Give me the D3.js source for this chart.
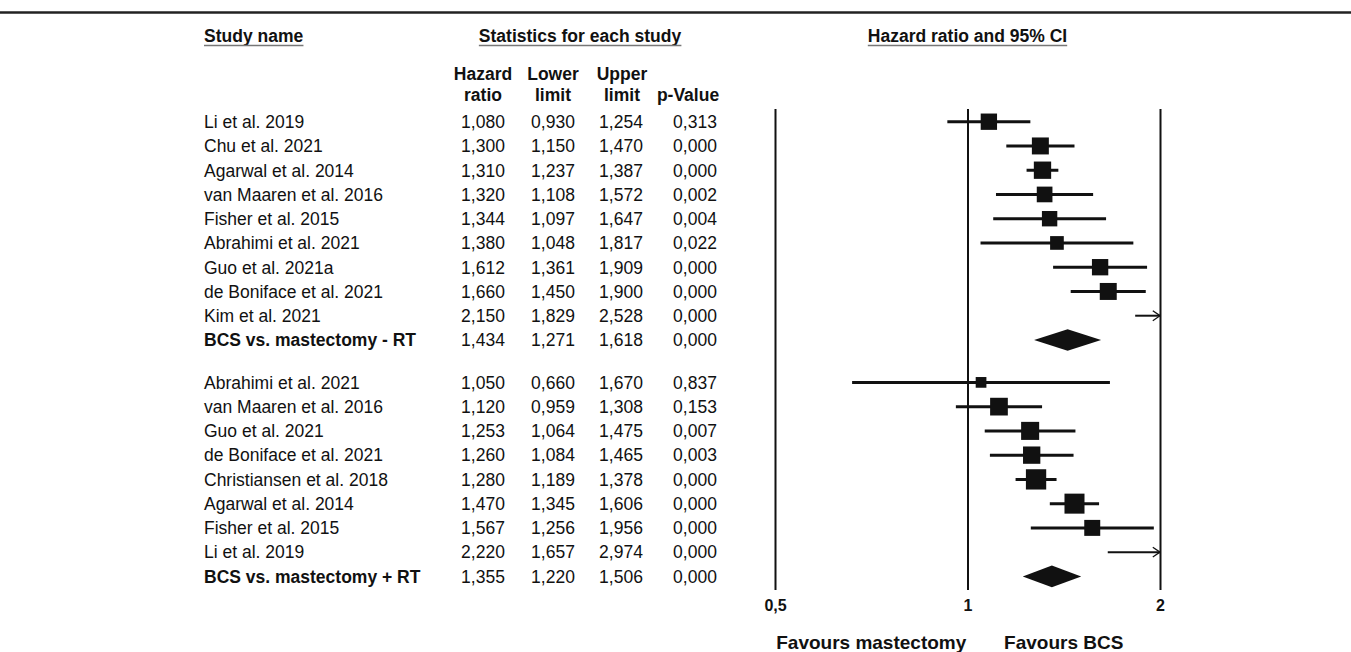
<!DOCTYPE html>
<html>
<head>
<meta charset="utf-8">
<script src="https://cdn.jsdelivr.net/npm/d3@7"></script>
<style>
  body { margin: 0; background: #fff; }
  svg { display: block; font-family: "Liberation Sans", Arial, sans-serif; }
</style>
</head>
<body>
<div id="chart"></div>
<script>
// studies, BCS vs. mastectomy - RT
var names1 = ["Li et al. 2019", "Chu et al. 2021", "Agarwal et al. 2014", "van Maaren et al. 2016",
  "Fisher et al. 2015", "Abrahimi et al. 2021", "Guo et al. 2021a", "de Boniface et al. 2021", "Kim et al. 2021"];
var hr1 = [1.080, 1.300, 1.310, 1.320, 1.344, 1.380, 1.612, 1.660, 2.150];
var lower1 = [0.930, 1.150, 1.237, 1.108, 1.097, 1.048, 1.361, 1.450, 1.829];
var upper1 = [1.254, 1.470, 1.387, 1.572, 1.647, 1.817, 1.909, 1.900, 2.528];
var p1 = [0.313, 0.000, 0.000, 0.002, 0.004, 0.022, 0.000, 0.000, 0.000];
var weight1 = [11.4, 12.3, 12.8, 10.5, 10.1, 8.0, 11.4, 12.3, 11.1];

// studies, BCS vs. mastectomy + RT
var names2 = ["Abrahimi et al. 2021", "van Maaren et al. 2016", "Guo et al. 2021", "de Boniface et al. 2021",
  "Christiansen et al. 2018", "Agarwal et al. 2014", "Fisher et al. 2015", "Li et al. 2019"];
var hr2 = [1.050, 1.120, 1.253, 1.260, 1.280, 1.470, 1.567, 2.220];
var lower2 = [0.660, 0.959, 1.064, 1.084, 1.189, 1.345, 1.256, 1.657];
var upper2 = [1.670, 1.308, 1.475, 1.465, 1.378, 1.606, 1.956, 2.974];
var p2 = [0.837, 0.153, 0.007, 0.003, 0.000, 0.000, 0.000, 0.000];
var weight2 = [4.9, 13.4, 13.9, 12.8, 17.6, 17.1, 10.9, 9.4];

// pooled
var sumNames = ["BCS vs. mastectomy - RT", "BCS vs. mastectomy + RT"];
var sumHr = [1.434, 1.355];
var sumLower = [1.271, 1.220];
var sumUpper = [1.618, 1.506];
var sumP = [0.000, 0.000];

var tickVals = [0.5, 1, 2];
var tickLabels = ["0,5", "1", "2"];

var W = 1351, H = 652;
var ink = "#111";

var svg = d3.select("#chart").append("svg")
    .attr("width", W)
    .attr("height", H);

var locale = d3.formatLocale({decimal: ",", thousands: ".", grouping: [3], currency: ["", ""]});
var fmt = locale.format(".3f");

// build rows
var rows = [];
names1.forEach(function(n, i) {
  rows.push({name: n, hr: hr1[i], lo: lower1[i], hi: upper1[i], p: p1[i], w: weight1[i], idx: i, summary: false});
});
rows.push({name: sumNames[0], hr: sumHr[0], lo: sumLower[0], hi: sumUpper[0], p: sumP[0], idx: 9, summary: true});
names2.forEach(function(n, i) {
  rows.push({name: n, hr: hr2[i], lo: lower2[i], hi: upper2[i], p: p2[i], w: weight2[i], idx: 10.75 + i, summary: false});
});
rows.push({name: sumNames[1], hr: sumHr[1], lo: sumLower[1], hi: sumUpper[1], p: sumP[1], idx: 18.75, summary: true});

var y = d3.scaleLinear().domain([0, 1]).range([121.7, 145.95]);
var x = d3.scaleLog().domain([0.5, 2]).range([775, 1160]);
var size = d3.scaleSqrt().domain([0, 17.6]).range([0, 20.3]);

// top rule
svg.append("line")
    .attr("x1", 0).attr("x2", W)
    .attr("y1", 12.5).attr("y2", 12.5)
    .attr("stroke", "#222").attr("stroke-width", 2.5);

// headers
var heads = [
  {t: "Study name", x: 204, anchor: "start"},
  {t: "Statistics for each study", x: 580, anchor: "middle"},
  {t: "Hazard ratio and 95% CI", x: x(1), anchor: "middle"}
];
heads.forEach(function(h) {
  var t = svg.append("text")
      .attr("x", h.x).attr("y", 42)
      .attr("text-anchor", h.anchor)
      .attr("font-weight", "bold")
      .attr("font-size", 17.5)
      .attr("fill", ink)
      .text(h.t);
  var bb = t.node().getBBox();
  svg.append("line")
      .attr("x1", bb.x).attr("x2", bb.x + bb.width)
      .attr("y1", 45.5).attr("y2", 45.5)
      .attr("stroke", "#777").attr("stroke-width", 1.5);
});

var cols = [
  {l1: "Hazard", l2: "ratio", x: 483, hx: 483, key: "hr"},
  {l1: "Lower", l2: "limit", x: 553, hx: 553, key: "lo"},
  {l1: "Upper", l2: "limit", x: 621, hx: 622, key: "hi"},
  {l1: "", l2: "p-Value", x: 695, hx: 688, key: "p"}
];
cols.forEach(function(c) {
  svg.append("text").attr("x", c.hx).attr("y", 79.5)
      .attr("text-anchor", "middle").attr("font-weight", "bold")
      .attr("font-size", 17.5).attr("fill", ink).text(c.l1);
  svg.append("text").attr("x", c.hx).attr("y", 101)
      .attr("text-anchor", "middle").attr("font-weight", "bold")
      .attr("font-size", 17.5).attr("fill", ink).text(c.l2);
});

// table rows
var rowG = svg.selectAll("g.row").data(rows).enter().append("g")
    .attr("class", "row")
    .attr("transform", function(d) { return "translate(0," + y(d.idx) + ")"; });

rowG.append("text")
    .attr("x", 204).attr("dy", "0.36em")
    .attr("font-size", 17.5)
    .attr("font-weight", function(d) { return d.summary ? "bold" : "normal"; })
    .attr("fill", ink)
    .text(function(d) { return d.name; });

cols.forEach(function(c) {
  rowG.append("text")
      .attr("x", c.x).attr("dy", "0.36em")
      .attr("text-anchor", "middle")
      .attr("font-size", 17.5)
      .attr("fill", ink)
      .text(function(d) { return fmt(d[c.key]); });
});

// forest axis: vertical reference lines at 0.5, 1, 2
var axisY = 590;
var axis = svg.append("g")
    .attr("transform", "translate(0," + axisY + ")")
    .call(d3.axisBottom(x)
      .tickValues(tickVals)
      .tickFormat(function(d, i) { return tickLabels[i]; })
      .tickSize(-(axisY - 109))
      .tickPadding(10));
axis.select(".domain").remove();
axis.selectAll(".tick line").attr("stroke", ink).attr("stroke-width", 2);
axis.selectAll(".tick text")
    .attr("font-family", "Liberation Sans, Arial, sans-serif")
    .attr("font-weight", "bold")
    .attr("font-size", 16)
    .attr("fill", ink);

// arrow marker
svg.append("defs").append("marker")
    .attr("id", "arr")
    .attr("viewBox", "0 0 10 12")
    .attr("refX", 9).attr("refY", 6)
    .attr("markerUnits", "userSpaceOnUse")
    .attr("markerWidth", 9).attr("markerHeight", 13)
    .attr("orient", "auto")
  .append("path")
    .attr("d", "M1,0.5 L9,6 L1,11.5")
    .attr("fill", "none")
    .attr("stroke", ink)
    .attr("stroke-width", 1.4);

var studies = rows.filter(function(d) { return !d.summary; });
var dom = x.domain();
var plotG = svg.selectAll("g.est").data(studies).enter().append("g")
    .attr("class", "est")
    .attr("transform", function(d) { return "translate(0," + y(d.idx) + ")"; });

plotG.append("line")
    .attr("x1", function(d) { return x(Math.max(d.lo, dom[0])); })
    .attr("x2", function(d) { return x(Math.min(d.hi, dom[1])); })
    .attr("stroke", ink)
    .attr("stroke-width", function(d) { return d.hr > dom[1] ? 2 : 3; })
    .attr("marker-end", function(d) { return d.hi > dom[1] ? "url(#arr)" : null; });

plotG.filter(function(d) { return d.hr <= dom[1]; })
  .append("rect")
    .attr("x", function(d) { return x(d.hr) - size(d.w) / 2; })
    .attr("y", function(d) { return -size(d.w) / 2; })
    .attr("width", function(d) { return size(d.w); })
    .attr("height", function(d) { return size(d.w); })
    .attr("fill", ink);

// pooled diamonds
var diamonds = rows.filter(function(d) { return d.summary; });
svg.selectAll("path.dia").data(diamonds).enter().append("path")
    .attr("class", "dia")
    .attr("fill", ink)
    .attr("d", function(d) {
      var cy = y(d.idx), h = 10.8;
      return "M" + x(d.lo) + "," + cy +
        "L" + x(d.hr) + "," + (cy - h) +
        "L" + x(d.hi) + "," + cy +
        "L" + x(d.hr) + "," + (cy + h) + "Z";
    });

// favours labels
[["Favours mastectomy", Math.SQRT1_2], ["Favours BCS", Math.SQRT2]].forEach(function(f) {
  svg.append("text")
      .attr("x", x(f[1])).attr("y", 649)
      .attr("text-anchor", "middle")
      .attr("font-weight", "bold")
      .attr("font-size", 19)
      .attr("fill", ink)
      .text(f[0]);
});
</script>
</body>
</html>
